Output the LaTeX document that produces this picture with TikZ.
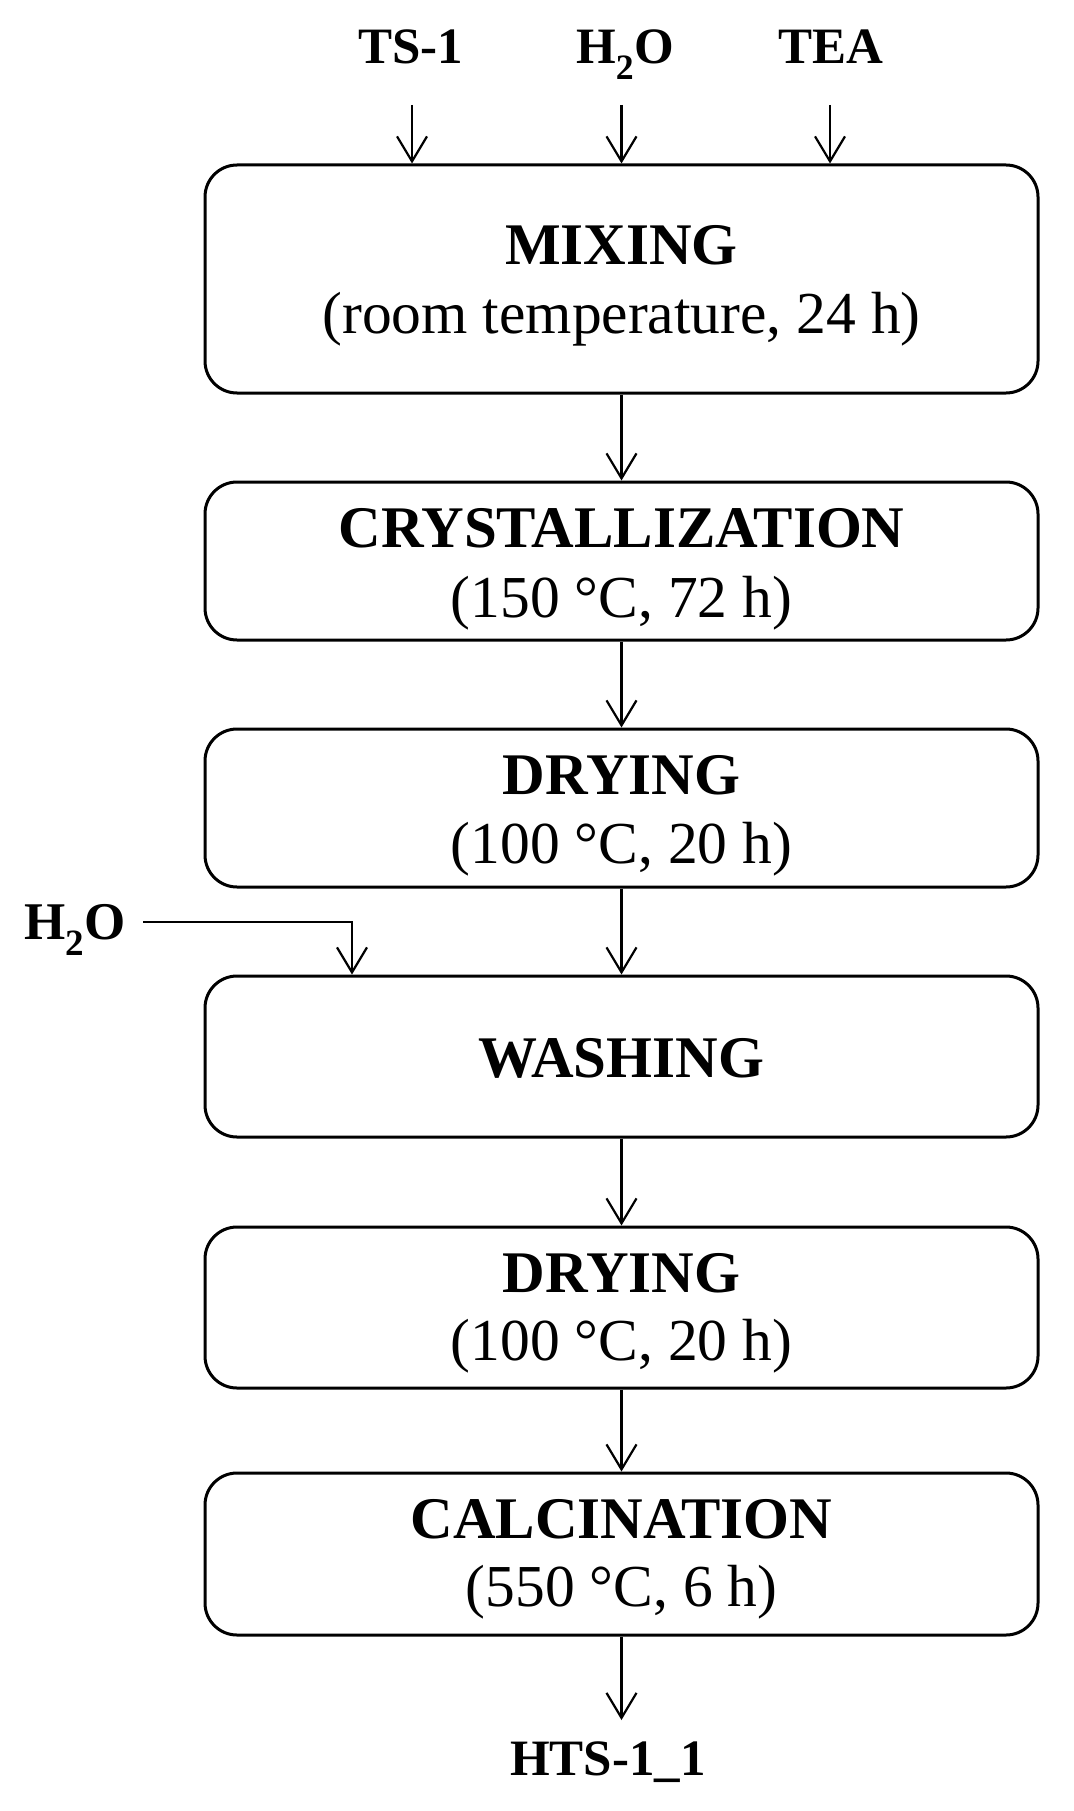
\documentclass[tikz,border=0pt]{standalone}
\usepackage{fontspec}
\setmainfont{Liberation Serif}
\usetikzlibrary{arrows.meta}
\tikzset{
  box/.style={draw, line width=3pt, rounded corners=32pt, minimum width=833pt, inner sep=0pt},
  ttl/.style={anchor=base, inner sep=0pt, font=\fontsize{59}{70}\selectfont\bfseries},
  sub/.style={anchor=base, inner sep=0pt, font=\fontsize{59.5}{70}\selectfont},
  lbl/.style={anchor=base, inner sep=0pt, font=\fontsize{51}{60}\selectfont\bfseries},
  arr/.style={line width=2.2pt, -{Straight Barb[length=25pt,width=30pt,line width=2.2pt]}},
}
\begin{document}
\begin{tikzpicture}[x=1pt,y=-1pt]
\useasboundingbox (0,0) rectangle (1073,1811);
% boxes
\node[box, minimum height=228pt] (mix)  at (621.5,279) {};
\node[box, minimum height=158pt] (crys) at (621.5,561) {};
\node[box, minimum height=158pt] (dry1) at (621.5,808) {};
\node[box, minimum height=161pt] (wash) at (621.5,1056.5) {};
\node[box, minimum height=161pt] (dry2) at (621.5,1307.5) {};
\node[box, minimum height=162pt] (calc) at (621.5,1554) {};
% texts
\node[ttl] (mixA)  at (621.5,265) {MIXING};
\node[sub] (mixB)  at (621.5,333) {(room temperature, 24 h)};
\node[ttl] (crysA) at (621.5,547) {CRYSTALLIZATION};
\node[sub] (crysB) at (621.5,617) {(150 °C, 72 h)};
\node[ttl] (dry1A) at (621.5,794) {DRYING};
\node[sub] (dry1B) at (621.5,863) {(100 °C, 20 h)};
\node[ttl] (washA) at (621.5,1077) {WASHING};
\node[ttl] (dry2A) at (621.5,1292) {DRYING};
\node[sub] (dry2B) at (621.5,1360) {(100 °C, 20 h)};
\node[ttl] (calcA) at (621.5,1538) {CALCINATION};
\node[sub] (calcB) at (621.5,1606) {(550 °C, 6 h)};
% labels
\node[lbl] (ts)   at (411,64) {TS-1};
\node[lbl] (wat)  at (625,64) {H\textsubscript{2}O};
\node[lbl] (tea)  at (831,64) {TEA};
\node[lbl, font=\fontsize{53}{62}\selectfont\bfseries] (watL) at (75,939) {H\textsubscript{2}O};
\node[lbl] (hts)  at (608,1775) {HTS-1\_1};
% connector ends
\coordinate (tsin)  at (412,105);
\coordinate (watin) at (621.5,105);
\coordinate (teain) at (830,105);
\coordinate (wstart) at (143,922);
\coordinate (wx) at (352,0);
\coordinate (htsin) at (621.5,1720);
% connectors
\draw[arr] (tsin) -- (tsin |- mix.north);
\draw[arr] (watin) -- (mix.north);
\draw[arr] (teain) -- (teain |- mix.north);
\draw[arr] (mix.south) -- (crys.north);
\draw[arr] (crys.south) -- (dry1.north);
\draw[arr] (dry1.south) -- (wash.north);
\draw[arr] (wstart) -| (wx |- wash.north);
\draw[arr] (wash.south) -- (dry2.north);
\draw[arr] (dry2.south) -- (calc.north);
\draw[arr] (calc.south) -- (htsin);
\end{tikzpicture}
\end{document}
